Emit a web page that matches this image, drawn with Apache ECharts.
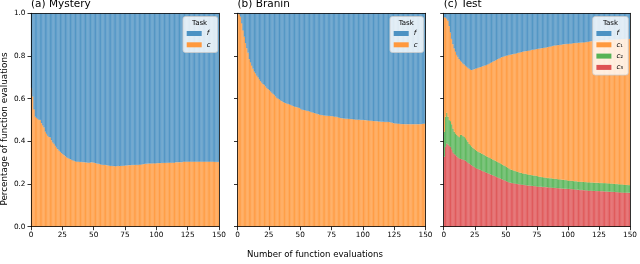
<!DOCTYPE html>
<html><head><meta charset="utf-8">
<script src="https://cdn.jsdelivr.net/npm/echarts@6/dist/echarts.min.js"></script>
<style>html,body{margin:0;padding:0;background:#fff}#c{width:640px;height:264px}</style>
</head><body><div id="c"></div>
<script>
// x tick labels and y tick labels
const xTicks = [0, 25, 50, 75, 100, 125, 150];
const yTicks = [0.0, 0.2, 0.4, 0.6, 0.8, 1.0];
const panelTitles = ['(a) Mystery', '(b) Branin', '(c) Test'];
// one category per function evaluation (bars 0..149)
const evals = Array.from({length: 150}, (_, i) => String(i));

// (a) Mystery: share of evaluations on constraint c
const mysteryC = [0.65,0.61,0.55,0.515,0.51,0.505,0.5,0.5,0.485,0.475,
0.465,0.445,0.435,0.425,0.42,0.418,0.405,0.395,0.388,0.378,
0.37,0.363,0.356,0.35,0.345,0.34,0.335,0.33,0.325,0.322,
0.319,0.316,0.313,0.311,0.308,0.306,0.305,0.305,0.304,0.303,
0.303,0.302,0.302,0.301,0.301,0.3,0.3,0.301,0.302,0.301,
0.3,0.298,0.296,0.295,0.294,0.292,0.291,0.29,0.29,0.289,
0.288,0.287,0.286,0.285,0.285,0.284,0.284,0.283,0.284,0.285,
0.284,0.285,0.285,0.286,0.286,0.287,0.287,0.288,0.288,0.288,
0.289,0.289,0.289,0.29,0.29,0.29,0.291,0.291,0.292,0.293,
0.294,0.295,0.295,0.296,0.296,0.296,0.297,0.297,0.297,0.297,
0.298,0.298,0.298,0.298,0.299,0.299,0.299,0.299,0.3,0.3,
0.3,0.3,0.3,0.3,0.3,0.302,0.302,0.302,0.302,0.302,
0.302,0.305,0.305,0.305,0.305,0.305,0.305,0.305,0.305,0.305,
0.305,0.305,0.305,0.305,0.305,0.305,0.305,0.305,0.305,0.305,
0.305,0.305,0.305,0.305,0.305,0.305,0.304,0.304,0.303,0.303];

// (b) Branin: share of evaluations on constraint c
const braninC = [1.0,0.995,0.984,0.953,0.92,0.89,0.86,0.836,0.815,0.785,
0.77,0.755,0.74,0.726,0.718,0.708,0.7,0.69,0.682,0.675,
0.668,0.664,0.657,0.65,0.645,0.64,0.634,0.628,0.622,0.617,
0.61,0.604,0.6,0.596,0.592,0.588,0.584,0.581,0.579,0.577,
0.575,0.573,0.571,0.568,0.565,0.563,0.561,0.56,0.558,0.556,
0.552,0.548,0.547,0.546,0.545,0.543,0.542,0.54,0.538,0.536,
0.534,0.532,0.531,0.529,0.527,0.525,0.524,0.523,0.522,0.521,
0.52,0.52,0.519,0.519,0.518,0.518,0.517,0.516,0.515,0.514,
0.512,0.511,0.509,0.508,0.507,0.507,0.506,0.506,0.505,0.505,
0.504,0.504,0.503,0.503,0.502,0.502,0.501,0.501,0.5,0.5,
0.5,0.499,0.499,0.498,0.498,0.497,0.497,0.496,0.495,0.495,
0.494,0.494,0.493,0.493,0.492,0.492,0.492,0.491,0.491,0.491,
0.491,0.49,0.489,0.487,0.485,0.484,0.484,0.483,0.483,0.482,
0.481,0.481,0.481,0.48,0.48,0.48,0.48,0.48,0.48,0.48,
0.48,0.48,0.48,0.48,0.48,0.48,0.481,0.482,0.483,0.483];

// (c) Test: cumulative shares (top of c1, c2, c3 layers)
const testTopC1 = [0.981,0.981,0.975,0.965,0.94,0.91,0.88,0.855,0.835,0.82,
0.805,0.795,0.785,0.778,0.772,0.765,0.76,0.755,0.75,0.745,
0.74,0.736,0.734,0.736,0.738,0.74,0.742,0.744,0.746,0.748,
0.75,0.752,0.754,0.756,0.758,0.761,0.764,0.767,0.77,0.773,
0.776,0.779,0.782,0.785,0.788,0.791,0.794,0.796,0.798,0.8,
0.801,0.803,0.805,0.806,0.807,0.808,0.81,0.811,0.812,0.814,
0.815,0.817,0.818,0.82,0.821,0.822,0.823,0.824,0.825,0.826,
0.828,0.829,0.83,0.831,0.832,0.833,0.834,0.835,0.836,0.837,
0.838,0.839,0.84,0.841,0.843,0.844,0.845,0.847,0.848,0.849,
0.85,0.851,0.851,0.852,0.853,0.854,0.855,0.855,0.856,0.857,
0.857,0.858,0.858,0.859,0.86,0.86,0.861,0.861,0.862,0.862,
0.863,0.863,0.864,0.864,0.865,0.866,0.867,0.868,0.869,0.87,
0.87,0.871,0.871,0.872,0.872,0.873,0.873,0.874,0.874,0.874,
0.875,0.875,0.875,0.876,0.876,0.876,0.877,0.877,0.877,0.877,
0.878,0.878,0.878,0.879,0.879,0.879,0.88,0.88,0.88,0.88];
const testTopC2 = [0.445,0.515,0.534,0.515,0.5,0.495,0.48,0.46,0.445,0.437,
0.43,0.425,0.42,0.43,0.43,0.425,0.422,0.415,0.406,0.398,
0.388,0.382,0.376,0.37,0.365,0.36,0.356,0.352,0.349,0.346,
0.343,0.34,0.337,0.333,0.33,0.327,0.324,0.321,0.318,0.315,
0.312,0.309,0.306,0.303,0.3,0.297,0.294,0.29,0.287,0.284,
0.28,0.277,0.273,0.269,0.267,0.265,0.263,0.261,0.259,0.257,
0.255,0.253,0.252,0.25,0.249,0.248,0.247,0.245,0.244,0.243,
0.242,0.241,0.24,0.239,0.238,0.237,0.235,0.234,0.233,0.232,
0.231,0.23,0.229,0.228,0.228,0.227,0.227,0.226,0.225,0.224,
0.224,0.223,0.222,0.222,0.221,0.22,0.22,0.219,0.218,0.217,
0.216,0.216,0.215,0.215,0.214,0.213,0.213,0.212,0.211,0.211,
0.21,0.21,0.21,0.209,0.209,0.208,0.208,0.208,0.207,0.207,
0.207,0.206,0.206,0.206,0.206,0.205,0.205,0.205,0.204,0.204,
0.204,0.203,0.203,0.203,0.202,0.202,0.201,0.201,0.2,0.2,
0.199,0.199,0.198,0.198,0.197,0.197,0.196,0.196,0.195,0.195];
const testTopC3 = [0.328,0.375,0.39,0.385,0.378,0.374,0.362,0.348,0.34,0.336,
0.33,0.325,0.32,0.318,0.316,0.314,0.312,0.309,0.305,0.3,
0.296,0.292,0.288,0.284,0.28,0.276,0.273,0.271,0.268,0.266,
0.263,0.261,0.258,0.256,0.253,0.251,0.248,0.246,0.243,0.241,
0.238,0.236,0.233,0.231,0.228,0.226,0.223,0.221,0.218,0.216,
0.213,0.211,0.208,0.206,0.205,0.204,0.203,0.202,0.201,0.2,
0.199,0.198,0.197,0.197,0.196,0.195,0.194,0.193,0.193,0.192,
0.191,0.191,0.19,0.19,0.189,0.188,0.188,0.187,0.187,0.186,
0.186,0.186,0.185,0.185,0.184,0.184,0.183,0.183,0.182,0.182,
0.181,0.181,0.18,0.18,0.179,0.179,0.178,0.178,0.178,0.177,
0.177,0.177,0.176,0.176,0.175,0.175,0.174,0.173,0.173,0.172,
0.172,0.172,0.171,0.171,0.17,0.17,0.169,0.169,0.169,0.168,
0.168,0.168,0.167,0.167,0.167,0.167,0.166,0.166,0.166,0.165,
0.165,0.165,0.164,0.164,0.164,0.163,0.163,0.163,0.162,0.162,
0.161,0.161,0.161,0.16,0.16,0.16,0.16,0.159,0.159,0.159];

const FONT = 'DejaVu Sans';
const COL = {f: '#4c92c3', c: '#ff993e', c2: '#56b356', c3: '#de5253'};
const r3 = v => Math.round(v * 1000) / 1000;

const gridLeft = [31, 237.5, 443.7];
const gridW = 188, gridTop = 13.3, gridH = 213.4;
const line = {show: true, onZero: false, lineStyle: {color: '#000', width: 0.8}};

const grid = [], xAxis = [], yAxis = [];
for (let p = 0; p < 3; p++) {
  grid.push({left: gridLeft[p], top: gridTop, width: gridW, height: gridH, containLabel: false});
  xAxis.push({type: 'category', gridIndex: p, data: evals, show: false, boundaryGap: true});
  xAxis.push({type: 'value', gridIndex: p, position: 'bottom', min: xTicks[0], max: xTicks[xTicks.length - 1],
    interval: xTicks[1] - xTicks[0], z: 10, axisLine: line,
    axisTick: {show: true, length: 3.5, lineStyle: {color: '#000', width: 0.8}},
    axisLabel: {show: true, fontSize: 7.3, fontFamily: FONT, color: '#000', margin: 4.5},
    splitLine: {show: false}});
  xAxis.push({type: 'value', gridIndex: p, position: 'top', min: 0, max: 150, z: 10, axisLine: line,
    axisTick: {show: false}, axisLabel: {show: false}, splitLine: {show: false}});
  yAxis.push({type: 'value', gridIndex: p, position: 'left', min: yTicks[0], max: yTicks[yTicks.length - 1],
    interval: 0.2, z: 10, axisLine: line,
    axisTick: {show: true, length: 3.5, lineStyle: {color: '#000', width: 0.8}},
    axisLabel: {show: p === 0, fontSize: 7.3, fontFamily: FONT, color: '#000', margin: 5.5,
      formatter: v => v.toFixed(1)},
    splitLine: {show: false}});
  yAxis.push({type: 'value', gridIndex: p, position: 'right', min: 0, max: 1, z: 10, axisLine: line,
    axisTick: {show: false}, axisLabel: {show: false}, splitLine: {show: false}});
}

function bar(name, p, data, color) {
  return {type: 'bar', name, xAxisIndex: 3 * p, yAxisIndex: 2 * p, stack: 's' + p, data,
    barCategoryGap: '0%', itemStyle: {color, borderColor: color, borderWidth: 0.35},
    emphasis: {disabled: true}, silent: true};
}

const series = [
  bar('c', 0, mysteryC, COL.c),
  bar('f', 0, mysteryC.map(v => r3(1 - v)), COL.f),
  bar('c', 1, braninC, COL.c),
  bar('f', 1, braninC.map(v => r3(1 - v)), COL.f),
  bar('c₃', 2, testTopC3, COL.c3),
  bar('c₂', 2, testTopC2.map((v, i) => r3(v - testTopC3[i])), COL.c2),
  bar('c₁', 2, testTopC1.map((v, i) => r3(v - testTopC2[i])), COL.c),
  bar('f', 2, testTopC1.map(v => r3(1 - v)), COL.f)
];

const legendText = {fontSize: 7, fontFamily: FONT, color: '#000', lineHeight: 9,
  rich: {i: {fontStyle: 'italic', fontSize: 7, fontFamily: FONT, lineHeight: 9},
         n: {fontSize: 7, fontFamily: FONT, lineHeight: 9}}};
const legendFmt = name => name.length > 1 ? '{i|' + name[0] + '}{n|' + name.slice(1) + '}' : '{i|' + name + '}';
function legend(data, left, padRight) {
  return {data, left, top: 16.5, orient: 'vertical', icon: 'rect', itemWidth: 15, itemHeight: 5, itemGap: 2.3,
    padding: [12.5, padRight, 3.2, 3.7], backgroundColor: 'rgba(255,255,255,0.8)', borderColor: '#cccccc',
    borderWidth: 0.8, borderRadius: 2.5, selectedMode: false, textStyle: legendText, formatter: legendFmt,
    itemStyle: {borderWidth: 0}};
}
const legends = [
  legend(['f', 'c'], 183, 7.1),
  legend(['f', 'c'], 390, 6.1),
  legend(['f', 'c₁', 'c₂', 'c₃'], 592.7, 5.2)
];

const txt = (text, x, y, size, opts) => Object.assign({type: 'text', z: 100, silent: true,
  style: Object.assign({text, x, y, font: size + 'px "' + FONT + '"', fill: '#000',
    textAlign: 'left', textVerticalAlign: 'middle'}, (opts && opts.style) || {})}, (opts && opts.el) || {});

const graphic = [
  txt(panelTitles[0], 31, 4.5, 10.5),
  txt(panelTitles[1], 237.5, 4.5, 10.5),
  txt(panelTitles[2], 443.7, 4.5, 10.5),
  txt('Task', 199.6, 23.5, 7, {style: {textAlign: 'center'}}),
  txt('Task', 406.2, 23.5, 7, {style: {textAlign: 'center'}}),
  txt('Task', 610.5, 23.5, 7, {style: {textAlign: 'center'}}),
  txt('Number of function evaluations', 315, 255, 8.6, {style: {textAlign: 'center'}}),
  txt('Percentage of function evaluations', 0, 0, 8.8,
    {style: {textAlign: 'center'}, el: {x: 5, y: 129, rotation: Math.PI / 2}})
];

const chart = echarts.init(document.getElementById('c'), null, {renderer: 'canvas'});
chart.setOption({animation: false, grid, xAxis, yAxis, series, legend: legends, graphic});
</script></body></html>
